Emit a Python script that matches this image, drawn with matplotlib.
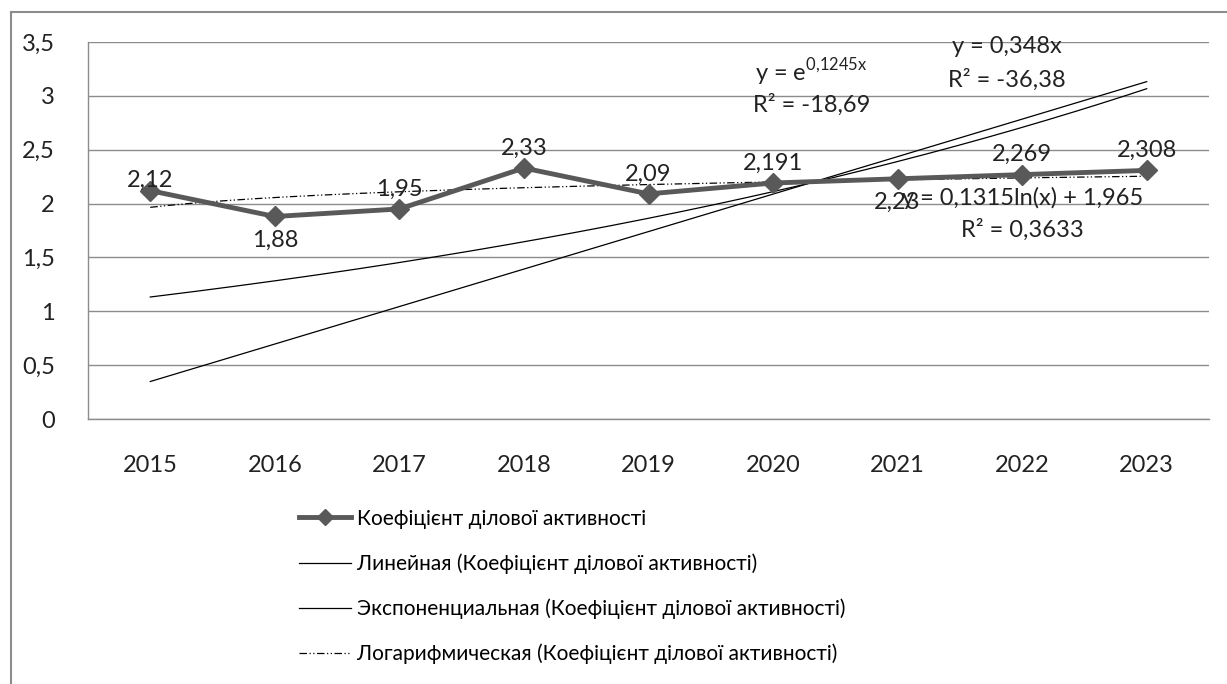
import numpy as np
import matplotlib
matplotlib.use('Agg')
import matplotlib.pyplot as plt
from matplotlib import font_manager
from matplotlib.lines import Line2D

# === DATI ===
anni = ['2015', '2016', '2017', '2018', '2019', '2020', '2021', '2022', '2023']
valori = [2.12, 1.88, 1.95, 2.33, 2.09, 2.191, 2.23, 2.269, 2.308]
etichette = ['2,12', '1,88', '1,95', '2,33', '2,09', '2,191', '2,23', '2,269', '2,308']

# coefficienti delle linee di tendenza (come riportati nel grafico)
lin_a = 0.348               # y = 0,348x
exp_b = 0.1245              # y = e^(0,1245x)
log_a, log_b = 0.1315, 1.965  # y = 0,1315ln(x) + 1,965

nome_serie = 'Коефіцієнт ділової активності'
nomi_trend = ['Линейная (Коефіцієнт ділової активності)',
              'Экспоненциальная (Коефіцієнт ділової активності)',
              'Логарифмическая (Коефіцієнт ділової активності)']

# === STILE ===
disponibili = {f.name for f in font_manager.fontManager.ttflist}
font = 'Lato'
font_leg = 'Liberation Sans Narrow' if 'Liberation Sans Narrow' in disponibili else 'Lato'
plt.rcParams['font.family'] = [font, 'DejaVu Sans']
plt.rcParams['mathtext.fontset'] = 'custom'
plt.rcParams['mathtext.rm'] = font
grigio = '#8c8c8c'
col_serie = '#595959'
col_testo = '#222222'
fs = 17

W, H = 1227, 684
fig = plt.figure(figsize=(W / 100, H / 100), dpi=100)
ax = fig.add_axes([88 / W, 1 - 419 / H, (1209 - 88) / W, (419 - 42) / H])

x = np.arange(1, len(valori) + 1)
xx = np.linspace(1, len(valori), 200)

ax.plot(xx, lin_a * xx, color='black', lw=0.9, zorder=2)
ax.plot(xx, np.exp(exp_b * xx), color='black', lw=0.9, zorder=2)
ax.plot(xx, log_a * np.log(xx) + log_b, color='black', lw=0.9,
        dashes=[6, 2, 1, 2, 1, 2], zorder=2)
ax.plot(x, valori, color=col_serie, lw=3.5, marker='D', ms=10, zorder=3)

# etichette dei dati
sopra = [True, False, True, True, True, True, False, True, True]
for xi, v, t, s in zip(x, valori, etichette, sopra):
    dy = 20 if s else -24
    if t == '2,12':
        dy = 10
    ax.annotate(t, (xi, v), xytext=(0, dy), textcoords='offset pixels',
                ha='center', va='center', fontsize=fs, color=col_testo, zorder=4)

# equazioni delle linee di tendenza
kw = dict(ha='center', va='center', fontsize=fs, color=col_testo)
ax.text(6.31, 3.22, r'y = e$^{\mathregular{0{,}1245x}}$', **kw)
ax.text(6.31, 2.915, 'R² = -18,69', **kw)
ax.text(7.88, 3.454, 'y = 0,348x', **kw)
ax.text(7.88, 3.148, 'R² = -36,38', **kw)
ax.text(8.0, 2.052, 'y = 0,1315ln(x) + 1,965', **kw)
ax.text(8.0, 1.755, 'R² = 0,3633', **kw)

ax.set_xlim(0.5, len(valori) + 0.5)
ax.set_ylim(0, 3.5)
ax.set_xticks(x)
ax.set_xticklabels(anni)
yt = np.arange(0, 3.51, 0.5)
ax.set_yticks(yt)
ax.set_yticklabels([('%g' % v).replace('.', ',') for v in yt])
ax.tick_params(length=0, labelsize=fs, colors=col_testo)
ax.tick_params(axis='x', pad=26)
ax.tick_params(axis='y', pad=24)
ax.grid(axis='y', color=grigio, lw=1)
ax.set_axisbelow(True)
for lato in ['top', 'right']:
    ax.spines[lato].set_visible(False)
for lato in ['left', 'bottom']:
    ax.spines[lato].set_color(grigio)
    ax.spines[lato].set_linewidth(1)

# legenda
maniglie = [Line2D([], [], color=col_serie, lw=3.5, marker='D', ms=8),
            Line2D([], [], color='black', lw=0.9),
            Line2D([], [], color='black', lw=0.9),
            Line2D([], [], color='black', lw=0.9, dashes=[6, 2, 1, 2, 1, 2])]
fig.legend(maniglie, [nome_serie] + nomi_trend, loc='upper left',
           bbox_to_anchor=(280 / W, 1 - 490 / H), frameon=False,
           handlelength=2.5, handletextpad=0.3, labelspacing=1.18,
           prop={'family': font_leg, 'size': 15})

# bordo esterno del grafico
fig.add_artist(Line2D([11 / W, 11 / W], [0, 1 - 12 / H], transform=fig.transFigure,
                      color=grigio, lw=1.5))
fig.add_artist(Line2D([11 / W, 1], [1 - 12 / H, 1 - 12 / H], transform=fig.transFigure,
                      color=grigio, lw=1.5))

fig.savefig('out.png', dpi=100)
